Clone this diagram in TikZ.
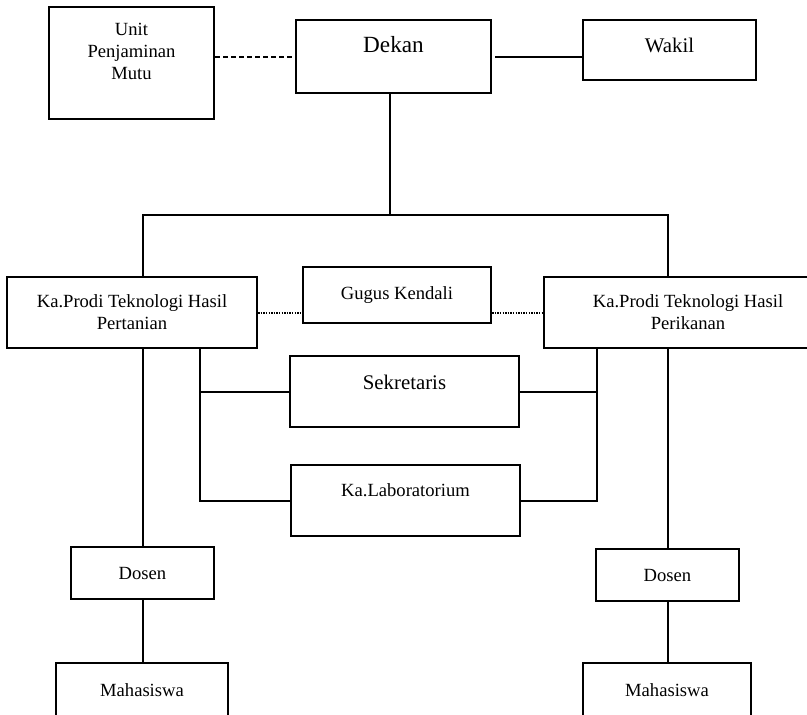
\documentclass[tikz,border=0pt]{standalone}
\usepackage{fontspec}
\setmainfont{Liberation Serif}
\usetikzlibrary{positioning, calc}

\begin{document}
\begin{tikzpicture}[
    x=0.5pt, y=-0.5pt,
    every node/.style={font=\fontsize{9.3}{11}\selectfont},
    kotak/.style={draw, line width=1.1pt, inner sep=0pt, align=center},
    naik/.style={text depth=#1},
    garis/.style={line width=1pt},
    putus/.style={garis, dash pattern=on 2.6pt off 1.4pt},
    titik/.style={garis, dash pattern=on 0.7pt off 0.6pt},
]
\useasboundingbox (0,0) rectangle (807,714);
\clip (0,0) rectangle (807,714);

% === Pimpinan ===
\node[kotak, minimum width=82.5pt, minimum height=56pt, naik=12pt] (unit) at (131.5,63)
    {Unit\\Penjaminan\\Mutu};
\node[kotak, minimum width=97.5pt, minimum height=36.5pt, naik=12.5pt,
      font=\fontsize{11.6}{13}\selectfont] (dekan) at (393.5,56.5) {Dekan};
\node[kotak, minimum width=86.5pt, minimum height=30pt, naik=5pt,
      font=\fontsize{10.4}{12}\selectfont] (wakil) at (669.5,50) {Wakil};

\draw[putus] (dekan.west -| unit.east) -- (dekan.west);
\draw[garis] ([xshift=1.5pt]dekan.east) -- (dekan.east -| wakil.west);

% === Program studi ===
\node[kotak, minimum width=125pt, minimum height=35.5pt] (prodiA) at (132,312.5)
    {Ka.Prodi Teknologi Hasil\\Pertanian};
\node[kotak, minimum width=144pt, minimum height=35.5pt] (prodiB) at (688,312.5)
    {Ka.Prodi Teknologi Hasil\\Perikanan};
\node[kotak, minimum width=94pt, minimum height=28pt] (gugus) at (397,295) {Gugus Kendali};

\node[kotak, minimum width=71.5pt, minimum height=26pt] (dosenA) at (142.5,573) {Dosen};
\node[kotak, minimum width=71.5pt, minimum height=26pt] (dosenB) at (667.5,575) {Dosen};

\coordinate (simpul) at (dekan.south |- 0,215);
\draw[garis] ([xshift=-1.75pt]dekan.south) -- ([xshift=-1.75pt]simpul);
\draw[garis] (dosenA |- prodiA.north) |- (simpul) -| (dosenB |- prodiB.north);

\draw[titik] (prodiA.east) -- (prodiA.east -| gugus.west);
\draw[titik] (gugus.east |- prodiB.west) -- (prodiB.west);

% === Sekretaris dan laboratorium ===
\node[kotak, minimum width=114.5pt, minimum height=35.5pt, naik=9.5pt,
      font=\fontsize{10.4}{12}\selectfont] (sekretaris) at (404.5,391.5) {Sekretaris};
\node[kotak, minimum width=114.5pt, minimum height=35.5pt, naik=10.5pt] (lab) at (405.5,500.5)
    {Ka.Laboratorium};

\coordinate (kiri) at ($(prodiA.south)+(68,0)$);
\coordinate (kanan) at ($(prodiB.south)+(-91,0)$);
\draw[garis] (kiri) |- (lab.west);
\draw[garis] (sekretaris.west) -- (sekretaris.west -| kiri);
\draw[garis] (kanan) |- (lab.east);
\draw[garis] (sekretaris.east) -- (sekretaris.east -| kanan);

% === Dosen dan mahasiswa ===
\node[kotak, minimum width=86pt, minimum height=35.5pt, naik=8.5pt] (mhsA) at (142,698.5) {Mahasiswa};
\node[kotak, minimum width=84pt, minimum height=35.5pt, naik=8.5pt] (mhsB) at (667,698.5) {Mahasiswa};

\draw[garis] (dosenA |- prodiA.south) -- (dosenA.north);
\draw[garis] (dosenB |- prodiB.south) -- (dosenB.north);
\draw[garis] (dosenA.south) -- (dosenA.south |- mhsA.north);
\draw[garis] (dosenB.south) -- (dosenB.south |- mhsB.north);

\end{tikzpicture}
\end{document}
